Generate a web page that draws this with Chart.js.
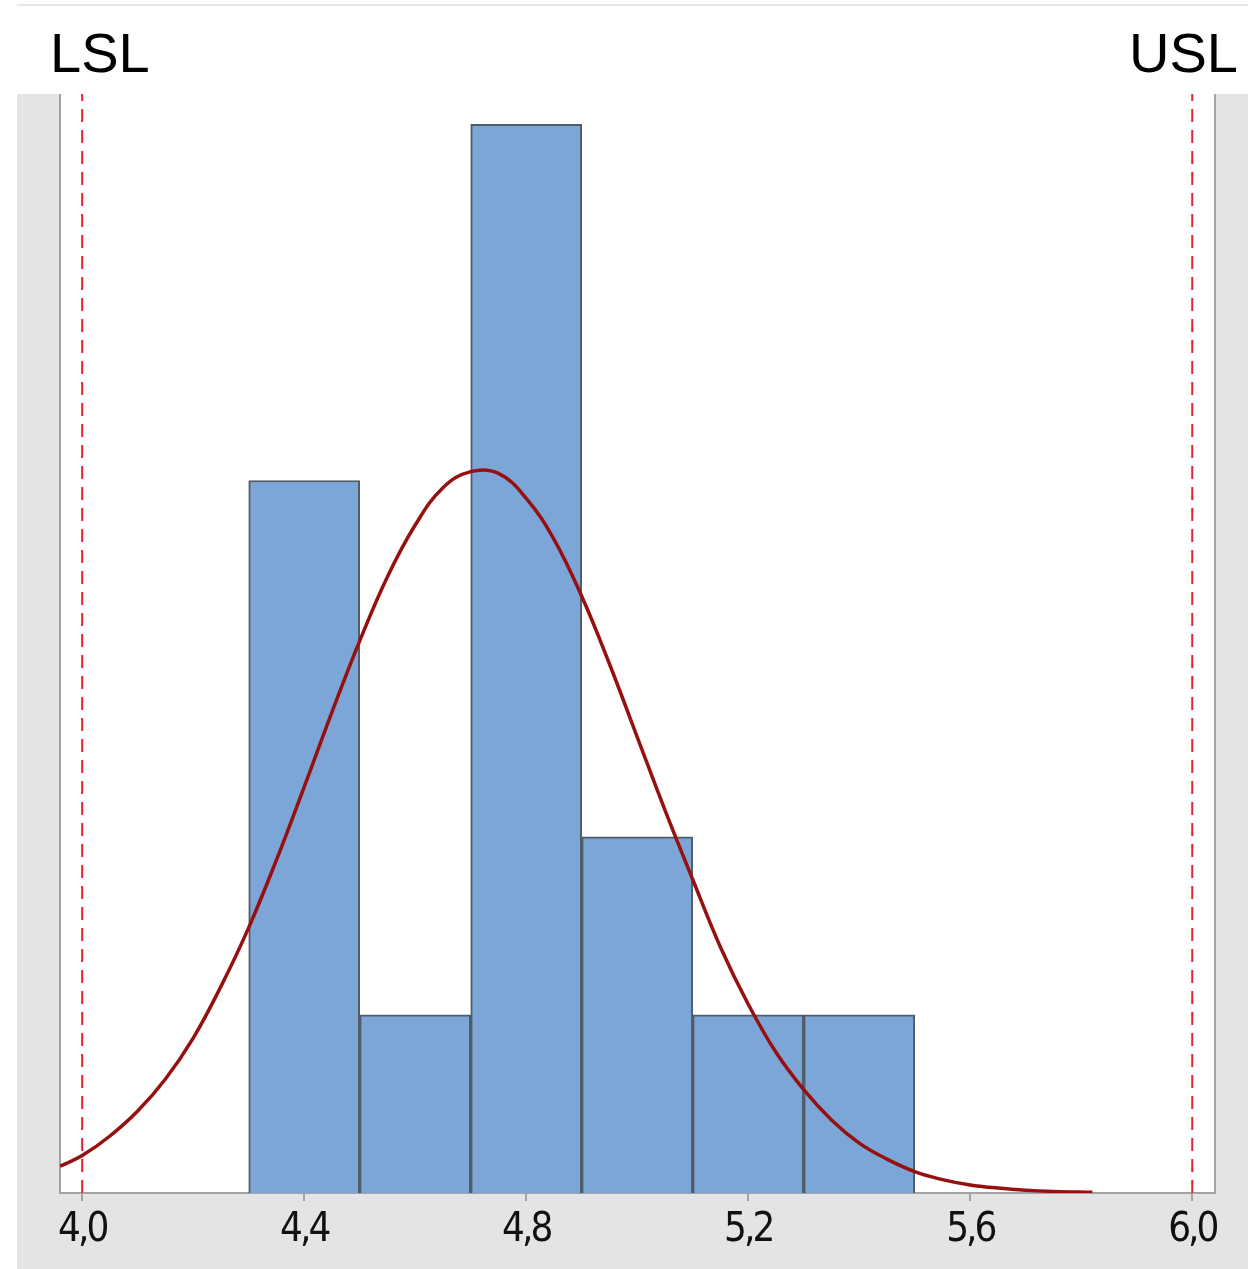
<!DOCTYPE html>
<html>
<head>
<meta charset="utf-8">
<script src="https://cdn.jsdelivr.net/npm/chart.js@4/dist/chart.umd.min.js"></script>
<style>
  html, body { margin: 0; padding: 0; background: #ffffff; }
  #wrap { position: relative; width: 1255px; height: 1269px; }
  canvas { position: absolute; left: 0; top: 0; }
  .spec { position: absolute; font-family: 'Liberation Sans', Arial, sans-serif; font-size: 56px; line-height: 56px; color: #000; top: 25px; }
  #lsl { left: 50px; }
  #usl { right: 17px; }
</style>
</head>
<body>
<div id="wrap">
  <canvas id="c" width="1255" height="1269"></canvas>
  <div class="spec" id="lsl">LSL</div>
  <div class="spec" id="usl">USL</div>
</div>
<script>
// ---- data ----
const BIN_CENTERS = [4.4, 4.6, 4.8, 5.0, 5.2, 5.4];
const COUNTS      = [4, 1, 6, 2, 1, 1];

const CURVE_X = [3.96, 4.00, 4.05, 4.10, 4.15, 4.20, 4.25, 4.30, 4.35, 4.40, 4.45, 4.50, 4.55, 4.60, 4.65, 4.70,
                 4.75, 4.80, 4.85, 4.90, 4.95, 5.00, 5.05, 5.10, 5.15, 5.20, 5.25, 5.30, 5.35, 5.40, 5.45, 5.50,
                 5.55, 5.60, 5.65, 5.70, 5.75, 5.82];
const CURVE_Y = [0.15, 0.21, 0.32, 0.46, 0.64, 0.87, 1.16, 1.49, 1.87, 2.28, 2.70, 3.10, 3.46, 3.75, 3.96, 4.05,
                 4.04, 3.90, 3.67, 3.35, 2.97, 2.56, 2.15, 1.76, 1.38, 1.06, 0.79, 0.58, 0.41, 0.28, 0.19, 0.12,
                 0.075, 0.045, 0.028, 0.016, 0.009, 0.004];

const TICKS = [4.0, 4.4, 4.8, 5.2, 5.6, 6.0];
const LSL = 4.0;
const USL = 6.0;
const X_MIN = 3.96, X_MAX = 6.041;
const Y_MAX = 6.17;

// ---- build datasets ----
const barData = BIN_CENTERS.map((x, i) => ({ x: x, y: COUNTS[i] }));
const curveData = CURVE_X.map((x, i) => ({ x: x, y: CURVE_Y[i] }));
const lslData = [{ x: LSL, y: 0 }, { x: LSL, y: Y_MAX }];
const uslData = [{ x: USL, y: 0 }, { x: USL, y: Y_MAX }];

const framePlugin = {
  id: 'frame',
  beforeDraw(chart) {
    const ctx = chart.ctx, a = chart.chartArea;
    ctx.save();
    ctx.fillStyle = '#ffffff';
    ctx.fillRect(0, 0, chart.width, chart.height);
    ctx.fillStyle = '#e4e4e4';
    ctx.fillRect(17, a.top, 1231, chart.height - a.top);
    ctx.fillStyle = '#ffffff';
    ctx.fillRect(a.left, a.top, a.right - a.left, a.bottom - a.top);
    ctx.strokeStyle = '#e6e6e6';
    ctx.lineWidth = 2;
    ctx.beginPath();
    ctx.moveTo(17, 5); ctx.lineTo(1248, 5);
    ctx.stroke();
    ctx.strokeStyle = '#a3a3a3';
    ctx.lineWidth = 2;
    ctx.beginPath();
    ctx.moveTo(a.left, a.top); ctx.lineTo(a.left, a.bottom);
    ctx.moveTo(a.right, a.top); ctx.lineTo(a.right, a.bottom);
    ctx.stroke();
    ctx.restore();
    ctx.letterSpacing = '-3px';
  }
};

new Chart(document.getElementById('c'), {
  type: 'bar',
  data: {
    datasets: [
      {
        type: 'line', data: curveData, borderColor: '#961010', borderWidth: 3.5,
        pointRadius: 0, tension: 0.4, fill: false, order: 0
      },
      {
        type: 'line', data: lslData, borderColor: '#e8222c', borderWidth: 2,
        borderDash: [13, 8], pointRadius: 0, fill: false, order: 1
      },
      {
        type: 'line', data: uslData, borderColor: '#e8222c', borderWidth: 2,
        borderDash: [13, 8], pointRadius: 0, fill: false, order: 1
      },
      {
        type: 'bar', data: barData, backgroundColor: '#7da6d8', borderColor: '#525c68',
        borderWidth: 2, barPercentage: 1, categoryPercentage: 1, order: 2
      }
    ]
  },
  options: {
    responsive: false,
    animation: false,
    devicePixelRatio: 1,
    layout: { padding: { left: 60, right: 40, top: 94, bottom: 0 } },
    plugins: { legend: { display: false }, tooltip: { enabled: false } },
    scales: {
      x: {
        type: 'linear', min: X_MIN, max: X_MAX, offset: false,
        afterBuildTicks(scale) { scale.ticks = TICKS.map(v => ({ value: v })); },
        afterFit(scale) { scale.height = 76; },
        grid: { offset: false, drawOnChartArea: false, drawTicks: true, tickLength: 8, color: '#a3a3a3', lineWidth: 2 },
        border: { display: true, color: '#a3a3a3', width: 2 },
        ticks: {
          autoSkip: false, maxRotation: 0, padding: 6, color: '#111111',
          font: { family: "'Liberation Sans Narrow', 'DejaVu Sans Condensed', sans-serif", size: 40 },
          callback: v => Number(v).toFixed(1).replace('.', ',')
        }
      },
      y: { display: false, min: 0, max: Y_MAX }
    }
  },
  plugins: [framePlugin]
});
</script>
</body>
</html>
